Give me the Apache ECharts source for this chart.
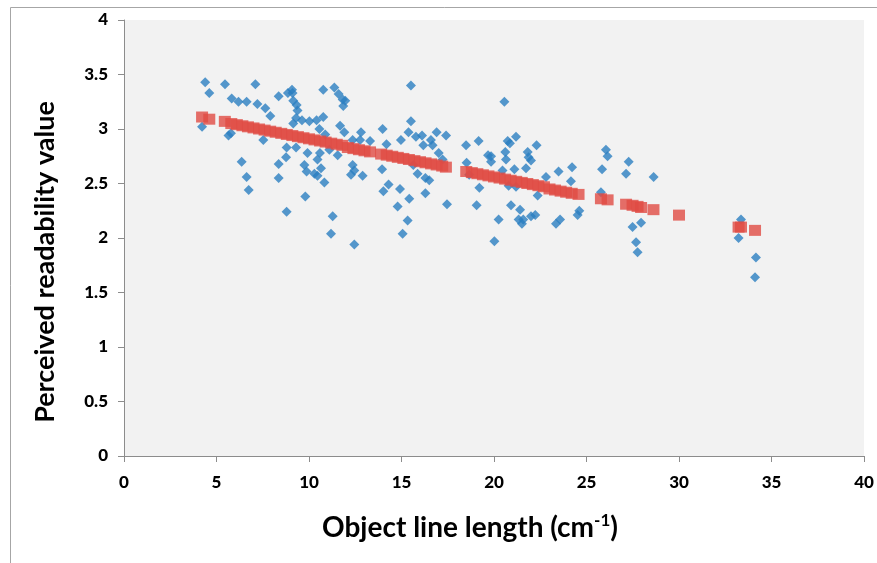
<!DOCTYPE html>
<html>
<head>
<meta charset="utf-8">
<script src="https://cdn.jsdelivr.net/npm/echarts@6/dist/echarts.min.js"></script>
<style>
  html, body { margin: 0; padding: 0; background: #fff; }
  #chart { width: 877px; height: 563px; }
</style>
</head>
<body>
<div id="chart"></div>
<script>
// 观测值 (x: line length, y: perceived readability)
const observed = [
  [4.39,3.43],[4.61,3.33],[5.46,3.41],[7.10,3.41],[5.82,3.28],[6.19,3.25],[6.63,3.25],[7.21,3.23],
  [7.64,3.19],[7.91,3.12],[8.36,3.30],[8.86,3.33],[4.22,3.02],[5.65,2.94],[5.78,2.96],[7.53,2.90],
  [6.36,2.70],[6.63,2.56],[6.74,2.44],[8.36,2.68],[8.36,2.55],[8.79,2.83],[8.76,2.74],[8.79,2.24],
  [9.08,3.36],[9.11,3.33],[9.15,3.26],[9.33,3.22],[9.38,3.17],[9.30,3.10],[9.15,3.05],[9.62,3.08],
  [10.02,3.07],[10.41,3.08],[10.77,3.11],[10.56,3.00],[10.77,3.36],[11.37,3.38],[11.60,3.32],[11.82,3.27],
  [11.96,3.26],[11.85,3.21],[11.68,3.03],[11.91,2.97],[10.88,2.95],[12.36,2.90],[12.81,2.97],[12.76,2.90],
  [13.30,2.89],[13.98,3.00],[14.19,2.86],[9.30,2.83],[9.92,2.78],[10.59,2.78],[10.46,2.72],[11.55,2.76],
  [11.10,2.81],[9.75,2.67],[9.87,2.61],[10.29,2.59],[10.65,2.64],[10.46,2.57],[10.83,2.51],[12.36,2.67],
  [12.27,2.58],[12.45,2.62],[12.90,2.57],[13.95,2.63],[14.02,2.43],[14.30,2.49],[9.80,2.38],[11.28,2.20],
  [11.19,2.04],[12.45,1.94],
  [15.51,3.40],[15.51,3.07],[15.38,2.97],[14.97,2.90],[15.78,2.93],[16.11,2.94],[16.18,2.85],[16.59,2.90],
  [16.68,2.85],[16.90,2.97],[17.41,2.94],[17.01,2.78],[17.22,2.72],[15.64,2.67],[15.87,2.59],[16.29,2.55],
  [16.50,2.53],[14.92,2.45],[15.42,2.36],[16.29,2.41],[14.79,2.29],[15.33,2.16],[15.06,2.04],[17.46,2.31],
  [18.49,2.85],[19.17,2.89],[18.52,2.69],[18.66,2.58],[19.68,2.76],[19.21,2.46],[19.06,2.30],
  [20.56,3.25],[20.74,2.89],[20.86,2.87],[21.19,2.93],[22.30,2.85],[20.61,2.79],[20.65,2.72],[19.84,2.75],
  [19.84,2.70],[21.82,2.79],[21.87,2.74],[22.00,2.71],[21.73,2.64],[20.46,2.62],[21.10,2.63],[20.79,2.48],
  [21.19,2.47],[22.81,2.56],[22.36,2.39],[23.49,2.61],[24.22,2.65],[24.16,2.52],[20.92,2.30],[21.41,2.26],
  [20.25,2.17],[21.33,2.17],[21.51,2.13],[21.58,2.17],[22.00,2.20],[22.23,2.21],[23.35,2.13],[23.57,2.17],
  [24.61,2.25],[24.52,2.21],[20.02,1.97],
  [26.05,2.81],[26.14,2.75],[25.84,2.63],[27.28,2.70],[27.14,2.59],[28.63,2.56],[25.78,2.42],[27.49,2.10],
  [27.95,2.14],[27.68,1.96],[27.76,1.87],
  [33.35,2.17],[33.22,2.00],[34.16,1.82],[34.11,1.64]
]

// 预测值 (red squares)
const predicted = [
  [4.22,3.11],[4.61,3.09],[5.45,3.07],[5.80,3.05],[6.10,3.04],[6.40,3.03],[6.70,3.02],[7.00,3.01],
  [7.30,3.00],[7.60,2.99],[7.90,2.98],[8.20,2.97],[8.50,2.96],[8.80,2.95],[9.10,2.94],[9.40,2.93],
  [9.70,2.92],[10.00,2.91],[10.30,2.90],[10.60,2.89],[10.90,2.88],[11.20,2.87],[11.50,2.86],[11.80,2.85],
  [12.10,2.83],[12.40,2.82],[12.70,2.81],[13.00,2.80],[13.30,2.79],[13.90,2.77],[14.20,2.76],[14.50,2.75],
  [14.80,2.74],[15.10,2.73],[15.40,2.72],[15.70,2.71],[16.00,2.70],[16.30,2.69],[16.60,2.68],[16.90,2.67],
  [17.20,2.66],[17.40,2.65],
  [18.50,2.61],[18.80,2.60],[19.10,2.59],[19.40,2.58],[19.70,2.57],[20.00,2.56],[20.30,2.55],[20.60,2.54],
  [20.90,2.53],[21.20,2.52],[21.50,2.51],[21.80,2.50],[22.10,2.49],[22.40,2.48],[22.70,2.47],[23.00,2.45],
  [23.30,2.44],[23.60,2.43],[23.90,2.42],[24.20,2.41],[24.57,2.40],
  [25.78,2.36],[26.14,2.35],[27.14,2.31],[27.49,2.30],[27.76,2.29],[27.95,2.28],[28.62,2.26],[30.00,2.21],
  [33.22,2.10],[33.35,2.10],[34.11,2.07]
]

const xTitle = 'Object line length (cm'
const yTitle = 'Perceived readability value'

const blue = '#2a7ec0'
const red = '#e04b44'
const axisColor = '#8c8c8c'
const font = 'Lato, "Open Sans", sans-serif'

const chart = echarts.init(document.getElementById('chart'))

const option = {
  animation: false,
  backgroundColor: '#ffffff',
  grid: {
    left: 124, right: 13, top: 20, bottom: 107,
    show: true, backgroundColor: '#f2f2f2', borderWidth: 0
  },
  xAxis: {
    type: 'value',
    min: 0, max: 40, interval: 5,
    splitLine: { show: false },
    axisLine: { onZero: false, lineStyle: { color: axisColor, width: 1 } },
    axisTick: { show: true, length: 6, lineStyle: { color: axisColor } },
    axisLabel: { color: '#000', fontFamily: font, fontWeight: 900, fontSize: 17, margin: 18 }
  },
  yAxis: {
    type: 'value',
    min: 0, max: 4, interval: 0.5,
    splitLine: { show: false },
    axisLine: { show: true, lineStyle: { color: axisColor, width: 1 } },
    axisTick: { show: true, length: 6, lineStyle: { color: axisColor } },
    axisLabel: { color: '#000', fontFamily: font, fontWeight: 900, fontSize: 17, margin: 16 }
  },
  graphic: [
    {
      type: 'rect', silent: true, z: -1,
      shape: { x: 10.5, y: 7.5, width: 900, height: 600 },
      style: { fill: 'none', stroke: '#a6a6a6', lineWidth: 1 }
    },
    {
      type: 'text', x: 45, y: 262, rotation: Math.PI / 2,
      style: {
        text: yTitle, fill: '#000', font: 'bold 27px ' + font,
        align: 'center', verticalAlign: 'middle'
      }
    },
    {
      type: 'text', x: 470, y: 528,
      style: {
        text: xTitle + '{sup|-1})', fill: '#000', font: 'bold 28px ' + font,
        align: 'center', verticalAlign: 'middle',
        rich: {
          sup: { font: 'bold 17px ' + font, fill: '#000', padding: [0, 0, 14, 0] }
        }
      }
    }
  ],
  series: [
    {
      name: 'observed',
      type: 'scatter',
      symbol: 'diamond',
      symbolSize: 10,
      itemStyle: { color: blue },
      data: observed
    },
    {
      name: 'predicted',
      type: 'scatter',
      symbol: 'rect',
      symbolSize: [12, 11],
      itemStyle: { color: red },
      data: predicted
    }
  ]
}

chart.setOption(option)
</script>
</body>
</html>
